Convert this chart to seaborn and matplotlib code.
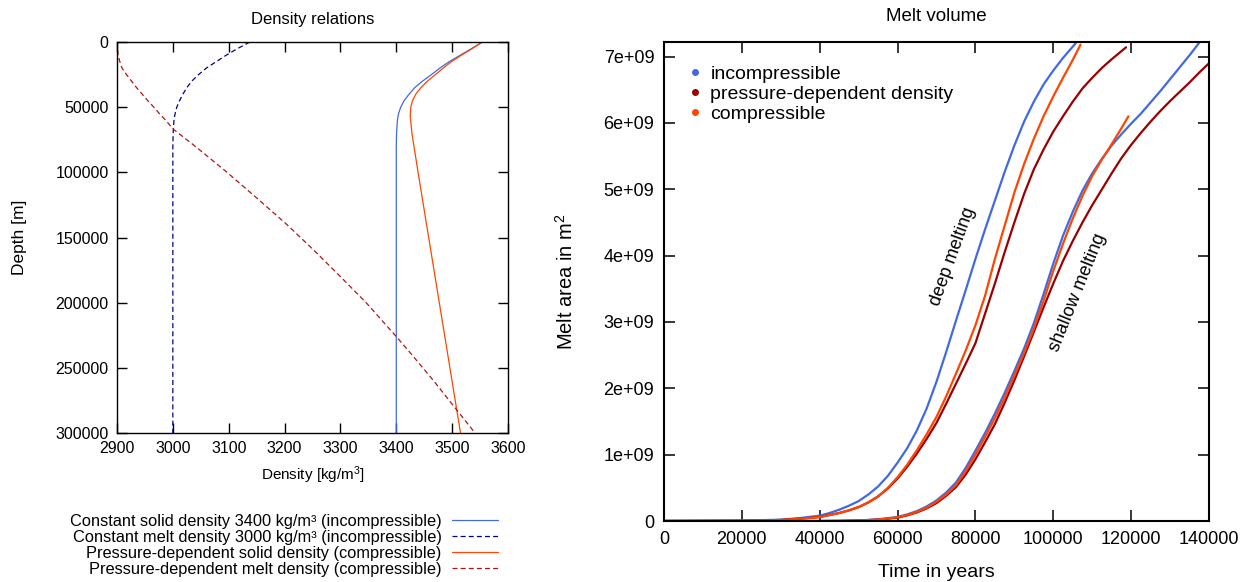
import numpy as np
import pandas as pd
import matplotlib
matplotlib.use("Agg")
import matplotlib.pyplot as plt
from matplotlib.lines import Line2D
from matplotlib.ticker import FuncFormatter
import seaborn as sns

# ---------------- Left panel: density profiles ----------------
depth_solid_const = [0, 5000, 10000, 15000, 20000, 25000, 30000, 35000, 40000, 45000,
                     50000, 55000, 60000, 70000, 80000, 300000]
rho_solid_const = [3554, 3535, 3515, 3495, 3478, 3463, 3447, 3433, 3423, 3414,
                   3408, 3404, 3402, 3400.5, 3400, 3400]

depth_melt_const = [0, 5000, 10000, 15000, 20000, 25000, 30000, 35000, 40000, 45000,
                    50000, 55000, 60000, 70000, 80000, 300000]
rho_melt_const = [3138, 3116, 3096, 3078, 3060, 3046, 3034, 3025, 3018, 3012,
                  3007, 3004, 3002, 3000.5, 3000, 3000]

depth_solid_p = [0, 5000, 10000, 15000, 20000, 25000, 30000, 35000, 40000, 45000,
                 50000, 57000, 70000, 100000, 150000, 200000, 250000, 300000]
rho_solid_p = [3554, 3536, 3517, 3499, 3484, 3470, 3456, 3444, 3435, 3429,
               3426, 3425, 3428, 3439, 3458, 3477, 3496, 3515]

depth_melt_p = [0, 5000, 10000, 15000, 20000, 25000, 30000, 35000, 40000, 45000, 50000,
                55000, 60000, 67000, 80000, 100000, 120000, 140000, 160000, 180000,
                200000, 226000, 240000, 260000, 280000, 300000]
rho_melt_p = [2900, 2900.5, 2902, 2905, 2909, 2917, 2926, 2935, 2945, 2955, 2966,
              2976, 2987, 3001, 3040, 3097, 3151, 3204, 3253, 3300,
              3346, 3400, 3428, 3467, 3504, 3541]

left_labels = [
    "Constant solid density 3400 kg/m³ (incompressible)",
    "Constant melt density 3000 kg/m³ (incompressible)",
    "Pressure-dependent solid density (compressible)",
    "Pressure-dependent melt density (compressible)",
]

# ---------------- Right panel: melt volume (area in 1e9 m^2) ----------------
t_deep_inc = [0, 20000, 30000, 35000, 40000, 42500, 45000, 47500, 50000, 52500, 55000,
              57500, 60000, 62500, 65000, 67500, 70000, 72500, 75000, 77500, 80000,
              82500, 85000, 87500, 90000, 92500, 95000, 97500, 100000, 102500, 105000, 106000]
a_deep_inc = [0, 0.005, 0.02, 0.045, 0.08, 0.12, 0.17, 0.23, 0.30, 0.40, 0.52,
              0.68, 0.88, 1.10, 1.37, 1.70, 2.10, 2.55, 3.02, 3.48, 3.95,
              4.40, 4.83, 5.26, 5.66, 6.02, 6.32, 6.58, 6.79, 6.98, 7.15, 7.22]

t_deep_cmp = [0, 20000, 30000, 35000, 40000, 42500, 45000, 47500, 50000, 52500, 55000,
              57500, 60000, 62500, 65000, 67500, 70000, 72500, 75000, 77500, 80000,
              82500, 85000, 87500, 90000, 92500, 95000, 97500, 100000, 102500, 105000, 107000]
a_deep_cmp = [0, 0.004, 0.015, 0.035, 0.06, 0.09, 0.12, 0.16, 0.21, 0.28, 0.37,
              0.50, 0.66, 0.85, 1.07, 1.31, 1.57, 1.88, 2.22, 2.57, 2.95,
              3.40, 3.95, 4.45, 4.95, 5.38, 5.76, 6.10, 6.40, 6.68, 6.95, 7.18]

t_deep_pd = [0, 20000, 30000, 35000, 40000, 45000, 47500, 50000, 52500, 55000, 57500,
             60000, 62500, 65000, 67500, 70000, 72500, 75000, 77500, 80000, 82500,
             85000, 87500, 90000, 92500, 95000, 97500, 100000, 102500, 105000, 107500,
             110000, 112500, 115000, 118700]
a_deep_pd = [0, 0.004, 0.015, 0.035, 0.06, 0.12, 0.16, 0.21, 0.28, 0.37, 0.49,
             0.64, 0.82, 1.02, 1.24, 1.48, 1.77, 2.07, 2.37, 2.68, 3.13,
             3.58, 4.05, 4.50, 4.93, 5.30, 5.60, 5.87, 6.10, 6.32, 6.52,
             6.68, 6.83, 6.96, 7.14]

t_sh_inc = [0, 40000, 45000, 50000, 55000, 60000, 62500, 65000, 67500, 70000, 72500,
            75000, 77500, 80000, 82500, 85000, 87500, 90000, 92500, 95000, 97500,
            100000, 102500, 105000, 107500, 110000, 112500, 115000, 117500, 120000,
            122500, 125000, 127500, 130000, 132500, 135000, 137500]
a_sh_inc = [0, 0, 0.002, 0.008, 0.025, 0.06, 0.10, 0.15, 0.22, 0.31, 0.43,
            0.58, 0.80, 1.06, 1.33, 1.62, 1.93, 2.26, 2.60, 2.98, 3.42,
            3.88, 4.30, 4.66, 4.98, 5.24, 5.46, 5.66, 5.83, 5.99,
            6.14, 6.31, 6.48, 6.66, 6.84, 7.02, 7.21]

t_sh_cmp = [0, 40000, 45000, 50000, 55000, 60000, 62500, 65000, 67500, 70000, 72500,
            75000, 77500, 80000, 82500, 85000, 87500, 90000, 92500, 95000, 97500,
            100000, 102500, 105000, 107500, 110000, 112500, 115000, 117500, 119300]
a_sh_cmp = [0, 0, 0.002, 0.007, 0.022, 0.055, 0.09, 0.14, 0.20, 0.29, 0.40,
            0.54, 0.75, 1.00, 1.27, 1.55, 1.86, 2.19, 2.53, 2.90, 3.32,
            3.77, 4.18, 4.56, 4.90, 5.20, 5.45, 5.68, 5.92, 6.10]

t_sh_pd = [0, 40000, 45000, 50000, 55000, 60000, 62500, 65000, 67500, 70000, 72500,
           75000, 77500, 80000, 82500, 85000, 87500, 90000, 92500, 95000, 97500,
           100000, 102500, 105000, 107500, 110000, 112500, 115000, 117500, 120000,
           122500, 125000, 127500, 130000, 132500, 135000, 137500, 140000]
a_sh_pd = [0, 0, 0.002, 0.006, 0.02, 0.05, 0.085, 0.13, 0.19, 0.27, 0.38,
           0.51, 0.70, 0.93, 1.19, 1.46, 1.78, 2.12, 2.48, 2.85, 3.22,
           3.58, 3.92, 4.22, 4.50, 4.76, 5.00, 5.24, 5.47, 5.67,
           5.85, 6.02, 6.18, 6.33, 6.47, 6.61, 6.76, 6.90]

right_labels = ["incompressible", "pressure-dependent density", "compressible"]

# ---------------- Styling ----------------
sns.set_theme(style="ticks")
plt.rcParams['font.family'] = ['Liberation Sans', 'DejaVu Sans']
plt.rcParams.update({
    'mathtext.fontset': 'custom',
    'mathtext.rm': 'Liberation Sans',
    'mathtext.it': 'Liberation Sans:italic',
    'axes.edgecolor': 'black',
    'axes.linewidth': 1.0,
    'xtick.color': 'black',
    'ytick.color': 'black',
    'text.color': 'black',
    'axes.labelcolor': 'black',
})

C_BLUE = "#4169E1"
C_NAVY = "#00008B"
C_ORANGE = "#FF4500"
C_RED_D = "#B01515"
C_DARKRED = "#9B0000"

W, H = 1255, 582
fig = plt.figure(figsize=(W / 100, H / 100), dpi=100)
axL = fig.add_axes([117 / W, 1 - 433 / H, 391 / W, 391 / H])
axR = fig.add_axes([664 / W, 1 - 521 / H, 545 / W, 479 / H])

# Left panel
sns.lineplot(x=rho_solid_const, y=depth_solid_const, sort=False, estimator=None, ax=axL,
             color=C_BLUE, lw=0.9, label=left_labels[0])
sns.lineplot(x=rho_melt_const, y=depth_melt_const, sort=False, estimator=None, ax=axL,
             color=C_NAVY, lw=0.9, linestyle=(0, (4, 2.5)), label=left_labels[1])
sns.lineplot(x=rho_solid_p, y=depth_solid_p, sort=False, estimator=None, ax=axL,
             color=C_ORANGE, lw=0.9, label=left_labels[2])
sns.lineplot(x=rho_melt_p, y=depth_melt_p, sort=False, estimator=None, ax=axL,
             color=C_RED_D, lw=0.9, linestyle=(0, (4, 2.5)), label=left_labels[3])

axL.set_xlim(2900, 3600)
axL.set_ylim(300000, 0)
axL.set_xticks(np.arange(2900, 3601, 100))
axL.set_yticks(np.arange(0, 300001, 50000))
axL.tick_params(direction='in', top=True, right=True, length=7, width=1, labelsize=11.5, pad=6)
axL.set_title("Density relations", fontsize=12, pad=13)
axL.set_xlabel("Density [kg/m$^3$]", fontsize=11, labelpad=6)
axL.set_ylabel("Depth [m]", fontsize=12.5, labelpad=20.5)

axL.legend(loc='upper right', bbox_to_anchor=(498 / W, 1 - 514 / H),
           bbox_transform=fig.transFigure, markerfirst=False, frameon=False,
           fontsize=11.8, handlelength=2.8, handletextpad=0.65, labelspacing=0.06,
           borderpad=0, borderaxespad=0)

# Right panel
LW = 1.6
for tt, aa, cc in [(t_deep_inc, a_deep_inc, C_BLUE), (t_deep_pd, a_deep_pd, C_DARKRED),
                   (t_deep_cmp, a_deep_cmp, C_ORANGE), (t_sh_inc, a_sh_inc, C_BLUE),
                   (t_sh_pd, a_sh_pd, C_DARKRED), (t_sh_cmp, a_sh_cmp, C_ORANGE)]:
    sns.lineplot(x=tt, y=np.array(aa) * 1e9, sort=False, estimator=None, ax=axR,
                 color=cc, lw=LW, legend=False)

axR.set_xlim(0, 140000)
axR.set_ylim(0, 7.22e9)
axR.set_xticks(np.arange(0, 140001, 20000))
axR.set_yticks(np.arange(0, 7.01e9, 1e9))
axR.yaxis.set_major_formatter(FuncFormatter(lambda v, p: "0" if v == 0 else f"{int(round(v / 1e9))}e+09"))
axR.tick_params(direction='in', top=True, right=True, length=8, width=1.1, labelsize=13, pad=7)
for s in axR.spines.values():
    s.set_linewidth(1.5)
axR.set_title("Melt volume", fontsize=13.5, pad=15)
axR.set_xlabel("Time in years", fontsize=14, labelpad=12)
axR.set_ylabel("Melt area in m$^2$", fontsize=14.5, labelpad=19)

axR.text(74200, 3.98e9, "deep melting", rotation=70, ha='center', va='center', fontsize=13)
axR.text(106300, 3.45e9, "shallow melting", rotation=68, ha='center', va='center', fontsize=13.2)

handlesR = [Line2D([], [], linestyle='none', marker='o', markersize=4, color=c)
            for c in (C_BLUE, C_DARKRED, C_ORANGE)]
axR.legend(handlesR, right_labels, loc='upper left', bbox_to_anchor=(0.046, 0.952),
           frameon=False, fontsize=14, handlelength=0.6, handletextpad=0.5,
           labelspacing=0.14, borderpad=0, borderaxespad=0)

fig.savefig("out.png", dpi=100)
